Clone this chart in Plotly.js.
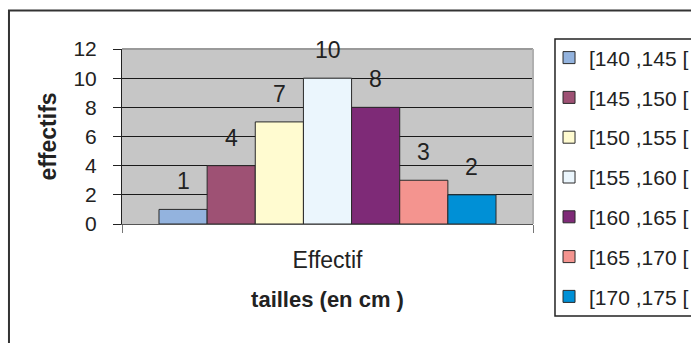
<!DOCTYPE html>
<html><head><meta charset="utf-8">
<script src="https://cdn.plot.ly/plotly-3.0.1.min.js"></script>
<style>html,body{margin:0;padding:0;background:#fff;} #chart{width:691px;height:343px;} .legend .scrollbar{display:none !important;}</style>
</head><body><div id="chart"></div>
<script>
const category = ['Effectif'];
const classes = ['[140 ,145 [','[145 ,150 [','[150 ,155 [','[155 ,160 [','[160 ,165 [','[165 ,170 [','[170 ,175 ['];
const effectifs = [1, 4, 7, 10, 8, 3, 2];
const colors = ['#93B3DE','#9E5174','#FFFBD0','#EBF6FD','#7E2A77','#F4948F','#0090D6'];
const yTicks = [0, 2, 4, 6, 8, 10, 12];

const FONT = '"Liberation Sans", Arial, sans-serif';
const bargap = 0.18;
const n = classes.length;
const w = (1 - bargap) / n;

const traces = classes.map((c, i) => ({
  type: 'bar', name: c, x: category, y: [effectifs[i]],
  marker: {color: colors[i], line: {color: '#2a2a2a', width: 1}},
  legendgroup: 'g' + i, hoverinfo: 'none'
}));

const annotations = effectifs.map((v, i) => ({
  xref: 'x', yref: 'y', x: -0.5 + bargap / 2 + (i + 0.5) * w, y: v,
  yshift: 28, text: String(v), showarrow: false,
  font: {family: FONT, size: 23, color: '#222'}, xanchor: 'center', yanchor: 'middle'
}));

// plot area: x 122..533 px, y 49..224 px
const shapes = [
  {type: 'line', xref: 'paper', yref: 'paper', x0: 0, x1: 1, y0: 1, y1: 1, line: {color: '#9a9a9a', width: 2}},
  {type: 'line', xref: 'paper', yref: 'paper', x0: 1, x1: 1, y0: 0, y1: 1, line: {color: '#b0b0b0', width: 2}},
  {type: 'rect', xref: 'paper', yref: 'paper', x0: -0.275, x1: 1.6, y0: -0.9, y1: 1.2204, line: {color: '#333', width: 2}},
  // legend frame
  {type: 'rect', xref: 'paper', yref: 'paper', x0: 1.0535, x1: 1.6, y0: -0.526, y1: 1.057, line: {color: '#222', width: 1.5}, fillcolor: '#fff', layer: 'below'}
];

const layout = {
  width: 691, height: 343,
  margin: {l: 122, r: 158, t: 49, b: 119, autoexpand: false},
  paper_bgcolor: '#fff', plot_bgcolor: '#c6c6c6',
  barmode: 'group', bargap: bargap, bargroupgap: 0,
  font: {family: FONT, color: '#222'},
  xaxis: {
    type: 'category', range: [-0.5, 0.5], showline: true, linecolor: '#555', linewidth: 1,
    ticks: 'outside', tickson: 'boundaries', ticklen: 8, tickcolor: '#777',
    tickfont: {size: 23, color: '#222'}, ticklabelstandoff: 15, showgrid: false,
    title: {text: 'tailles (en cm )', font: {size: 22, weight: 'bold', color: '#222'}, standoff: 20}
  },
  yaxis: {
    range: [0, 12], tickvals: yTicks, ticks: 'outside', ticklen: 8, tickcolor: '#222',
    showline: true, linecolor: '#222', linewidth: 1, gridcolor: '#1a1a1a', gridwidth: 1, zeroline: false,
    tickfont: {size: 21, color: '#222'}, ticklabelstandoff: 12,
    title: {text: 'effectifs', font: {size: 23, weight: 'bold', color: '#222'}, standoff: 10}
  },
  legend: {
    x: 1.039, y: 1.066, xanchor: 'left', yanchor: 'top',
    borderwidth: 0, bgcolor: 'rgba(0,0,0,0)', maxheight: 1000,
    font: {size: 21, color: '#222'}, tracegroupgap: 9.5, traceorder: 'grouped'
  },
  showlegend: true,
  annotations: annotations,
  shapes: shapes
};

Plotly.newPlot('chart', traces, layout, {staticPlot: true, displayModeBar: false});
</script>
</body></html>
